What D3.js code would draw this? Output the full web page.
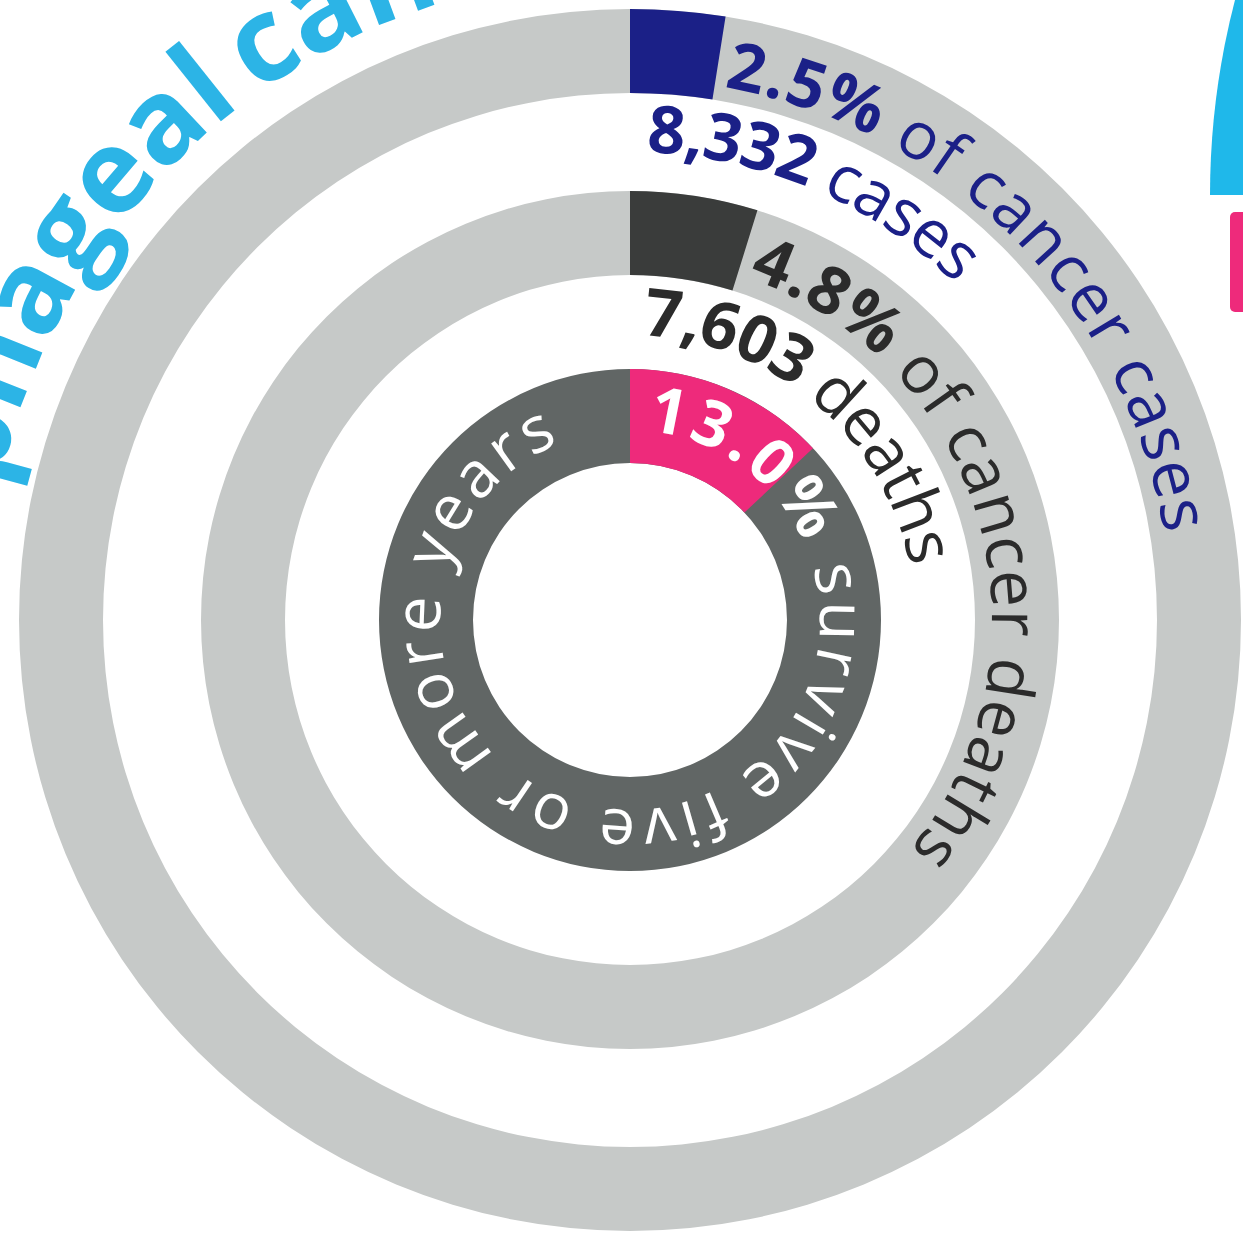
<!DOCTYPE html>
<html><head><meta charset="utf-8">
<script src="https://cdn.jsdelivr.net/npm/d3@7"></script>
<style>html,body{margin:0;padding:0;background:#fff;overflow:hidden}</style>
</head><body>
<svg id="chart" width="1243" height="1240"></svg>
<script>
// ---------- data ----------
const titleWords = ["Oesophageal", "cancer"];
const ringNames = ["cases", "deaths", "survival"];
const shares = [2.5, 4.8, 13.0];                 // percent
const shareLabels = ["2.5%", "4.8%", "13.0%"];
const shareTexts = [" of cancer cases", " of cancer deaths", " survive five or more years"];
const countValues = ["8,332", "7,603"];
const countTexts = [" cases", " deaths"];

// ---------- layout / style ----------
const W = 1243, H = 1240, cx = 630, cy = 620;
const ringInner = [527, 345, 157];
const ringOuter = [611, 429, 251];
const trackColor = ["#c6c9c8", "#c6c9c8", "#616665"];
const segColor = ["#1b2087", "#3a3c3b", "#ee2a7b"];
const labelColor = ["#1b2087", "#2b2b2b", "#ffffff"];
const labelR = [541, 362, 190];
const labelArc = [[10, 81], [19, 129.5], [5, 339]];
const labelSize = [66, 66, 64];
const countR = [468, 285];
const countArc = [[2, 44], [2.5, 79]];
const countSize = [66, 66];
const FONT = "'Open Sans', 'DejaVu Sans', sans-serif";

const svg = d3.select("#chart");
const g = svg.append("g").attr("transform", `translate(${cx},${cy})`);
const defs = svg.append("defs");

const angle = d3.scaleLinear().domain([0, 100]).range([0, 2 * Math.PI]);
const rad = d => d * Math.PI / 180;

// rings
ringNames.forEach((name, i) => {
  const arc = d3.arc().innerRadius(ringInner[i]).outerRadius(ringOuter[i]);
  g.append("path").attr("d", arc({startAngle: 0, endAngle: 2 * Math.PI})).attr("fill", trackColor[i]);
  g.append("path").attr("d", arc({startAngle: 0, endAngle: angle(shares[i])})).attr("fill", segColor[i]);
});

// path helper: clockwise arc (degrees from 12 o'clock) around origin
function arcPath(r, a0, a1) {
  const p = d3.path();
  p.arc(0, 0, r, rad(a0 - 90), rad(a1 - 90), false);
  return p.toString();
}

let pid = 0;
function curvedText(parts, r, a0, a1, size, color, fit, anchorEnd, spacing) {
  const id = "tp" + (pid++);
  defs.append("path").attr("id", id).attr("d", arcPath(r, a0, a1)).attr("transform", `translate(${cx},${cy})`);
  const t = svg.append("text").attr("font-family", FONT).attr("font-size", size).attr("fill", color);
  const tp = t.append("textPath").attr("href", "#" + id);
  parts.forEach(([s, w]) => tp.append("tspan").attr("font-weight", w).text(s));
  if (fit) {
    const L = t.node().getComputedTextLength();
    const D = r * rad(a1 - a0);
    const n = parts.map(p => p[0]).join("").length;
    t.attr("letter-spacing", ((D - L) / n).toFixed(2));
  } else if (spacing) {
    t.attr("letter-spacing", spacing);
  }
  if (anchorEnd) tp.attr("startOffset", "100%").attr("text-anchor", "end");
  return t;
}

ringNames.forEach((name, i) => {
  curvedText([[shareLabels[i], 700], [shareTexts[i], 400]], labelR[i], labelArc[i][0], labelArc[i][1], labelSize[i], labelColor[i], true);
});
countValues.forEach((v, i) => {
  curvedText([[v, 700], [countTexts[i], 400]], countR[i], countArc[i][0], countArc[i][1], countSize[i], labelColor[i], true);
});

// title, curved outside the rings
const titleR = 645, titleColor = "#2cb4e6", titleSize = 117;
curvedText([[titleWords[0], 700]], titleR, -140, -37, titleSize, titleColor, false, true, 0);
curvedText([[titleWords[1], 700]], titleR, -35.3, 60, titleSize, titleColor, false, false, 0);

// edge of the neighbouring panel
svg.append("path").attr("transform", "translate(1983,195)")
  .attr("d", d3.arc().innerRadius(0).outerRadius(773)({startAngle: -Math.PI / 2, endAngle: 0}))
  .attr("fill", "#1fb8ea");
svg.append("rect").attr("x", 1230).attr("y", 212).attr("width", 40).attr("height", 100).attr("rx", 5).attr("fill", "#ee2a7b");
</script>
</body></html>
